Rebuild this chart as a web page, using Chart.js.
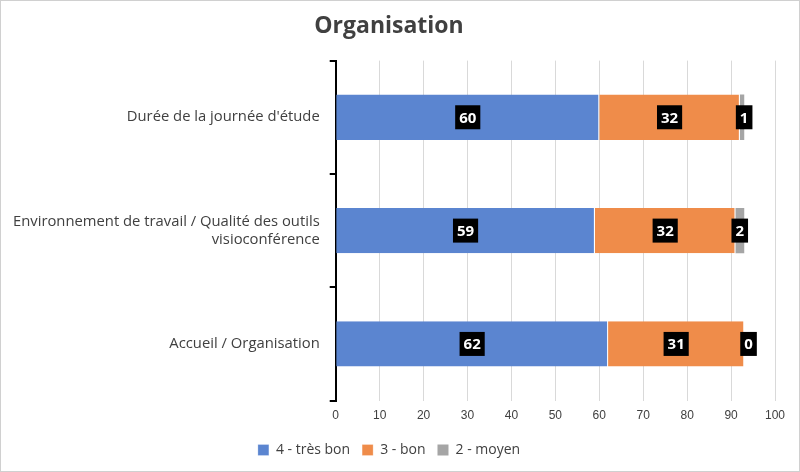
<!DOCTYPE html>
<html><head><meta charset="utf-8">
<script src="https://cdn.jsdelivr.net/npm/chart.js@4"></script>
<style>body{margin:0;background:#fff}#w{width:800px;height:472px;box-sizing:border-box;border:1px solid #d0d0d0}</style>
</head><body><div id="w"><canvas id="c" width="798" height="470"></canvas></div>
<script>
const categories = ["Durée de la journée d'étude", ["Environnement de travail / Qualité des outils","visioconférence"], "Accueil / Organisation"];
const tresBon = [60, 59, 62];
const bon = [32, 32, 31];
const moyen = [1, 2, 0];
const xTicks = [0,10,20,30,40,50,60,70,80,90,100];

const labelPlugin = {
  id:'lbl',
  afterDatasetsDraw(chart){
    const ctx = chart.ctx;
    chart.data.datasets.forEach((ds,di)=>{
      chart.getDatasetMeta(di).data.forEach((bar,i)=>{
        const v = ds.data[i];
        let x = (bar.x + bar.base)/2;
        const t = String(v);
        ctx.font = 'bold 15px "Open Sans", sans-serif';
        const w = ctx.measureText(t).width + 8;
        if(di===2) x = bar.base + w/2 - 4;
        ctx.fillStyle = '#000';
        ctx.fillRect(x - w/2, bar.y - 12, w, 24);
        ctx.fillStyle = '#fff';
        ctx.textAlign='center'; ctx.textBaseline='middle';
        ctx.fillText(t, x, bar.y+1);
      });
    });
  }
};

new Chart(document.getElementById('c'), {
  type:'bar',
  data:{labels:categories, datasets:[
    {label:'4 - très bon', data:tresBon, backgroundColor:'#5b85d0', borderColor:'#fff', borderWidth:{right:1}},
    {label:'3 - bon', data:bon, backgroundColor:'#ef8c4a', borderColor:'#fff', borderWidth:{right:1}},
    {label:'2 - moyen', data:moyen, backgroundColor:'#a5a5a5'}
  ]},
  options:{
    indexAxis:'y', responsive:false, animation:false,
    layout:{padding:{left:2,right:24,top:0,bottom:4}},
    plugins:{
      title:{display:true,text:'Organisation',color:'#404040',font:{size:23,weight:'bold',family:'"Open Sans", sans-serif'},padding:{top:12,bottom:20}},
      legend:{position:'bottom',labels:{boxWidth:11,boxHeight:11,color:'#404040',font:{size:14,family:'"Open Sans", sans-serif'},padding:12}},
      tooltip:{enabled:false}
    },
    scales:{
      x:{stacked:true,min:0,max:100,afterBuildTicks(a){a.ticks=xTicks.map(v=>({value:v}));},
        grid:{color:'#d9d9d9',drawTicks:false},border:{display:false},
        ticks:{color:'#404040',font:{size:12},padding:8}},
      y:{stacked:true,grid:{display:true,drawOnChartArea:false,offset:true,tickLength:6,color:'#000',lineWidth:2},
        border:{color:'#000',width:2},
        ticks:{color:'#404040',font:{size:14.8,family:'"Open Sans", sans-serif'},padding:10}}
    },
    datasets:{bar:{categoryPercentage:0.4,barPercentage:1}}
  },
  plugins:[labelPlugin]
});
</script></body></html>
